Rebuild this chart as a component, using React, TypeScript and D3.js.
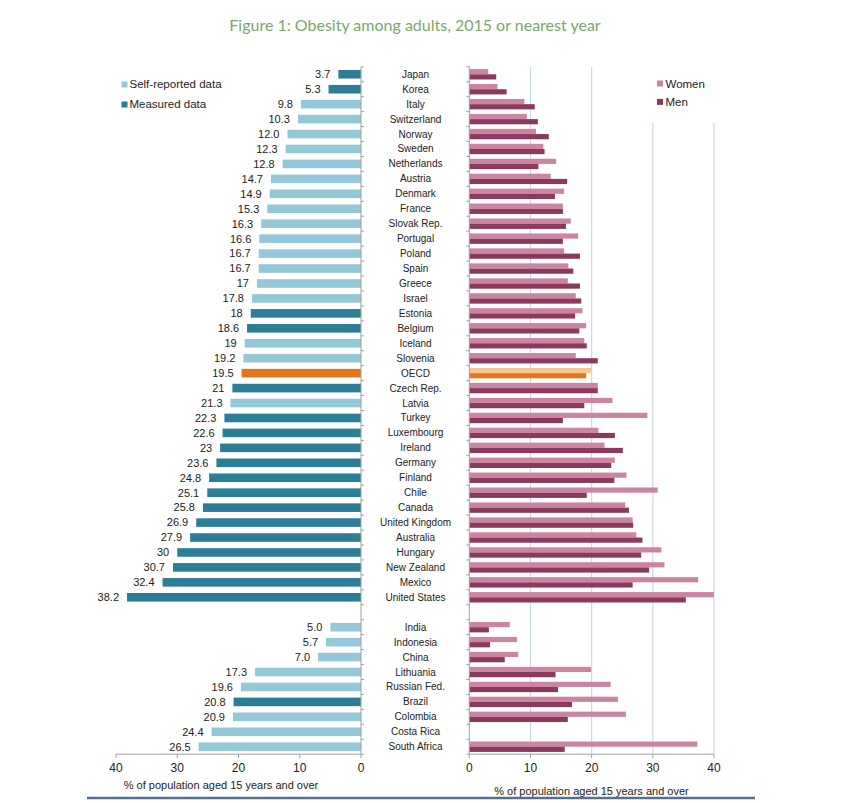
import React from "react";
import * as d3 from "d3";

const oecdCountries = ["Japan","Korea","Italy","Switzerland","Norway","Sweden","Netherlands","Austria","Denmark","France","Slovak Rep.","Portugal","Poland","Spain","Greece","Israel","Estonia","Belgium","Iceland","Slovenia","OECD","Czech Rep.","Latvia","Turkey","Luxembourg","Ireland","Germany","Finland","Chile","Canada","United Kingdom","Australia","Hungary","New Zealand","Mexico","United States"];
const oecdTotals = ["3.7","5.3","9.8","10.3","12.0","12.3","12.8","14.7","14.9","15.3","16.3","16.6","16.7","16.7","17","17.8","18","18.6","19","19.2","19.5","21","21.3","22.3","22.6","23","23.6","24.8","25.1","25.8","26.9","27.9","30","30.7","32.4","38.2"];
const oecdTypes = ["M","M","S","S","S","S","S","S","S","S","S","S","S","S","S","S","M","M","S","S","O","M","S","M","M","M","M","M","M","M","M","M","M","M","M","M"];
const oecdWomen = [3.1,4.6,9.0,9.4,10.9,12.1,14.2,13.3,15.5,15.3,16.6,17.8,15.5,16.2,16.1,17.4,18.5,19.1,18.8,17.4,19.9,21.0,23.4,29.1,21.1,22.1,23.8,25.7,30.8,25.5,26.7,27.3,31.4,31.9,37.4,40.0];
const oecdMen = [4.4,6.1,10.7,11.2,13.0,12.3,11.3,16.0,14.0,15.3,15.8,15.3,18.1,17.0,18.1,18.3,17.3,18.0,19.2,21.0,19.1,21.0,18.8,15.3,23.8,25.1,23.2,23.7,19.2,26.1,26.8,28.3,28.1,29.4,26.7,35.4];

const partnerCountries = ["India","Indonesia","China","Lithuania","Russian Fed.","Brazil","Colombia","Costa Rica","South Africa"];
const partnerTotals = ["5.0","5.7","7.0","17.3","19.6","20.8","20.9","24.4","26.5"];
const partnerTypes = ["S","S","S","S","S","M","S","S","S"];
const partnerWomen: (number | null)[] = [6.6,7.8,8.0,19.9,23.1,24.3,25.6,null,37.3];
const partnerMen: (number | null)[] = [3.2,3.4,5.8,14.1,14.5,16.8,16.1,null,15.6];

const axisTicks = [0, 10, 20, 30, 40];
const legendLeft = ["Self-reported data", "Measured data"];
const legendRight = ["Women", "Men"];
const title = "Figure 1: Obesity among adults, 2015 or nearest year";
const axisTitle = "% of population aged 15 years and over";

const GAP = "__gap__";

type Row = { key: string; name: string; label: string; value: number; type: string; women: number | null; men: number | null };

const rows: Row[] = [
  ...oecdCountries.map((c, i) => ({ key: c, name: c, label: oecdTotals[i], value: +oecdTotals[i], type: oecdTypes[i], women: oecdWomen[i], men: oecdMen[i] })),
  ...partnerCountries.map((c, i) => ({ key: c, name: c, label: partnerTotals[i], value: +partnerTotals[i], type: partnerTypes[i], women: partnerWomen[i], men: partnerMen[i] })),
];
const domain = [...oecdCountries, GAP, ...partnerCountries];

const C = {
  self: "#94c7d7",
  measured: "#2c7e96",
  oecd: "#e2741f",
  women: "#cc84a3",
  men: "#8a3a5e",
  oecdWomen: "#f8c690",
  oecdMen: "#e0791f",
  grid: "#c9dbe3",
  axis: "#a0a0a0",
  text: "#222",
  title: "#79a86b",
};

export default function App() {
  const y = d3.scaleBand<string>().domain(domain).range([66.8, 754.2]).paddingInner(0).paddingOuter(0);
  const bw = y.bandwidth();
  const xL = d3.scaleLinear().domain([0, 40]).range([361, 116]);
  const xR = d3.scaleLinear().domain([0, 40]).range([469.3, 714]);
  const font = "'Liberation Sans', Arial, sans-serif";
  const cy = (k: string) => (y(k) as number) + bw / 2;
  const boundaries = d3.range(domain.length + 1).map((i) => 66.8 + i * bw);

  return (
    <svg width={850} height={803} style={{ position: "absolute", left: 0, top: 0, background: "#fff" }} fontFamily={font}>
      <rect width={850} height={803} fill="#fff" />
      <text x={415} y={31} textAnchor="middle" fontFamily="Lato, 'Open Sans', sans-serif" fontSize={16} fill={C.title}>{title}</text>

      {/* right gridlines */}
      {axisTicks.filter((t) => t > 0).map((t) => (
        <line key={t} x1={xR(t)} x2={xR(t)} y1={66.8} y2={754.2} stroke={C.grid} strokeWidth={1.2} />
      ))}
      <rect x={640} y={60} width={90} height={63} fill="#fff" />

      {/* left bars */}
      {rows.map((r) => (
        <g key={"l" + r.key}>
          <rect x={xL(r.value)} y={cy(r.key) - 4.3} width={xL(0) - xL(r.value)} height={8.6}
            fill={r.type === "O" ? C.oecd : r.type === "M" ? C.measured : C.self} />
          <text x={xL(r.value) - 8} y={cy(r.key)} dy="0.35em" textAnchor="end" fontSize={11} fill={C.text}>{r.label}</text>
          <text x={415.5} y={cy(r.key)} dy="0.35em" textAnchor="middle" fontSize={10} fill={C.text}>{r.name}</text>
          {r.women != null && (
            <rect x={xR(0)} y={cy(r.key) - 5.2} width={xR(r.women) - xR(0)} height={5.2} fill={r.type === "O" ? C.oecdWomen : C.women} />
          )}
          {r.men != null && (
            <rect x={xR(0)} y={cy(r.key)} width={xR(r.men) - xR(0)} height={5.2} fill={r.type === "O" ? C.oecdMen : C.men} />
          )}
        </g>
      ))}

      {/* left axis */}
      <line x1={361} x2={361} y1={66.8} y2={754.2} stroke={C.axis} />
      {boundaries.map((b, i) => (
        <line key={"lt" + i} x1={361} x2={364} y1={b} y2={b} stroke={C.axis} />
      ))}
      <line x1={xL(40)} x2={xL(0)} y1={754.2} y2={754.2} stroke={C.axis} />
      {axisTicks.map((t) => (
        <g key={"lx" + t}>
          <line x1={xL(t)} x2={xL(t)} y1={754.2} y2={758} stroke={C.axis} />
          <text x={xL(t)} y={768} dy="0.35em" textAnchor="middle" fontSize={12} fill={C.text}>{t}</text>
        </g>
      ))}
      <text x={221} y={785} dy="0.35em" textAnchor="middle" fontSize={11} fill={C.text}>{axisTitle}</text>

      {/* right axis */}
      <line x1={xR(0)} x2={xR(0)} y1={66.8} y2={754.2} stroke={C.axis} />
      {boundaries.map((b, i) => (
        <line key={"rt" + i} x1={xR(0) - 3} x2={xR(0)} y1={b} y2={b} stroke={C.axis} />
      ))}
      <line x1={xR(0)} x2={xR(40)} y1={754.2} y2={754.2} stroke={C.axis} />
      {axisTicks.map((t) => (
        <g key={"rx" + t}>
          <line x1={xR(t)} x2={xR(t)} y1={754.2} y2={758} stroke={C.axis} />
          <text x={xR(t)} y={768} dy="0.35em" textAnchor="middle" fontSize={12} fill={C.text}>{t}</text>
        </g>
      ))}
      <text x={591.5} y={791} dy="0.35em" textAnchor="middle" fontSize={11} fill={C.text}>{axisTitle}</text>

      {/* legends */}
      {legendLeft.map((l, i) => (
        <g key={l}>
          <rect x={121.5} y={81.5 + i * 20} width={6} height={6} fill={i === 0 ? C.self : C.measured} />
          <text x={129.5} y={84.3 + i * 20} dy="0.35em" fontSize={11.5} fill={C.text}>{l}</text>
        </g>
      ))}
      {legendRight.map((l, i) => (
        <g key={l}>
          <rect x={657} y={80.5 + i * 18.4} width={6} height={6} fill={i === 0 ? C.women : C.men} />
          <text x={665.5} y={83.5 + i * 18.4} dy="0.35em" fontSize={11.5} fill={C.text}>{l}</text>
        </g>
      ))}

      <line x1={87} x2={755} y1={798} y2={798} stroke="#53718f" strokeWidth={2.5} />
    </svg>
  );
}
